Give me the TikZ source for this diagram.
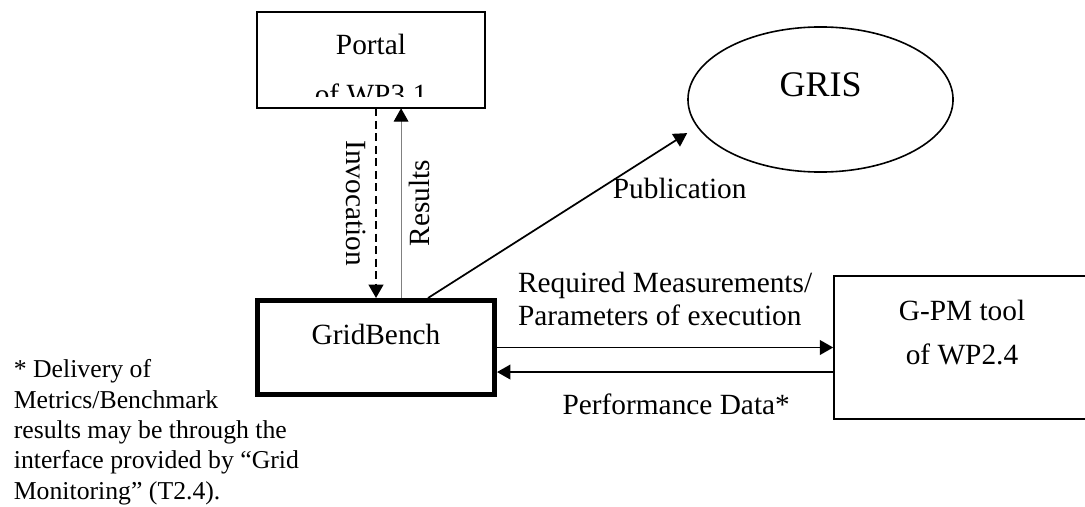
\documentclass[tikz,border=0pt]{standalone}
\usepackage{fontspec}
\setmainfont{Liberation Serif}
\usetikzlibrary{arrows.meta,shapes.geometric}

\newcommand\boxfont{\fontsize{11}{16.5}\selectfont}
\newcommand\portalfont{\fontsize{11}{18.75}\selectfont}
\newcommand\lblfont{\fontsize{11}{12.6}\selectfont}
\newcommand\notefont{\fontsize{9.65}{11.35}\selectfont}
\newcommand\grisfont{\fontsize{13.5}{16}\selectfont}

\begin{document}
\begin{tikzpicture}[x=0.375pt,y=-0.375pt,
    >={Triangle[length=5pt,width=5.5pt]},
    line width=0.65pt]
  \useasboundingbox (0,0) rectangle (1085,506);

  % boxes and the GRIS ellipse
  \begin{scope}[every node/.style={draw,rectangle,align=center,font=\boxfont,line width=0.6pt}]
    \begin{scope}
      \clip (240,0) rectangle (500,97);
      \node[minimum width=85.1pt,minimum height=35.6pt,inner ysep=0pt,font=\portalfont,
            text height=33.75pt,text depth=0pt] (portal) at (371,60) {Portal\\of WP3.1};
    \end{scope}
    \node[minimum width=88.9pt,minimum height=35.25pt,line width=1.875pt,
          text height=7.5pt,text depth=9.4pt] (gridbench) at (376,347.5) {GridBench};
    \node[minimum width=96pt,minimum height=53.6pt,
          text height=16.4pt,text depth=4pt] (gpm) at (962,347.5) {G-PM tool\\of WP2.4};
    \node[ellipse,minimum width=99.4pt,minimum height=54.4pt,font=\grisfont,
          text height=9pt,text depth=10.9pt] (gris) at (820.5,99.5) {GRIS};
  \end{scope}
  \draw[line width=0.6pt] (portal.south west) rectangle (portal.north east);

  \coordinate (resfoot) at ([xshift=9.4pt]gridbench.north);
  \coordinate (pubfoot) at ([xshift=19.5pt]gridbench.north);
  \coordinate (pubtip) at ([yshift=-12.6pt]gris.west);

  % connectors
  \begin{scope}[every node/.style={font=\lblfont,inner sep=0pt}]
    \path (portal.south -| gridbench.north) edge[->,line width=0.75pt,dash pattern=on 3pt off 1.7pt]
      node[midway,rotate=-90,anchor=north,inner sep=3.4pt,name=invlbl] {Invocation} (gridbench.north);
    \path (resfoot) edge[draw=gray,line width=0.4pt,-{Triangle[length=5pt,width=5.5pt,color=black]}]
      node[midway,rotate=90,anchor=north,inner sep=3pt,name=reslbl] {Results} (resfoot |- portal.south);
    \path (pubfoot) edge[->] node[pos=0.71,anchor=north west,yshift=1.3pt,name=publbl] {Publication} (pubtip);
    \path (gridbench) edge[->] node[above=7.7pt,align=left,name=reqlbl] {Required Measurements/\\Parameters of execution} (gpm);
    \path ([yshift=-9.2pt]gpm.west) edge[->] node[pos=0.467,below=7.9pt,name=perflbl] {Performance Data*} ([yshift=-9.2pt]gridbench.east);
  \end{scope}

  % footnote
  \node[anchor=north west,inner sep=0pt,align=left,font=\notefont] (note) at (13,359)
    {* Delivery of\\Metrics/Benchmark\\results may be through the\\interface provided by “Grid\\Monitoring” (T2.4).};
\end{tikzpicture}
\end{document}
